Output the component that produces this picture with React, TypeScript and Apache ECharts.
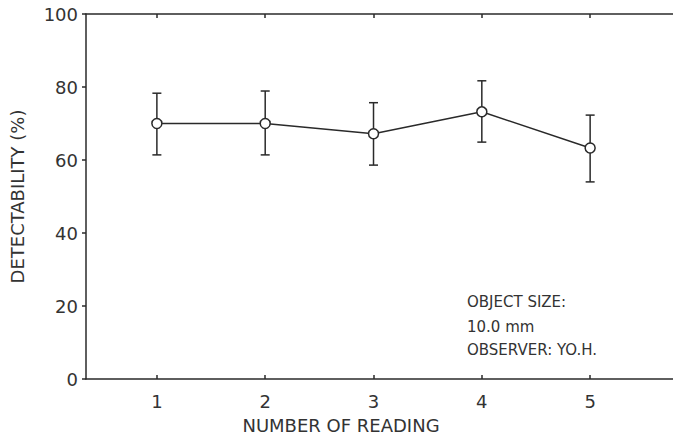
import React, { useEffect, useRef } from "react";
import * as echarts from "echarts";

const readings = [1, 2, 3, 4, 5];
const detectability = [70.0, 70.0, 67.2, 73.2, 63.3];
const errLow = [61.4, 61.4, 58.6, 64.9, 54.0];
const errHigh = [78.3, 78.9, 75.7, 81.7, 72.3];
const yTicks = [0, 20, 40, 60, 80, 100];
const notes = ["OBJECT SIZE:", "10.0 mm", "OBSERVER: YO.H."];

const INK = "#2a2a2a";
const FONT = "DejaVu Sans";

export default function App() {
  const ref = useRef<HTMLDivElement>(null);
  useEffect(() => {
    if (!ref.current) return;
    const chart = echarts.init(ref.current, undefined, { renderer: "svg" });
    const xMin = 0.3456;
    const xMax = 5.765;
    const option: any = {
      animation: false,
      backgroundColor: "#ffffff",
      grid: { left: 85, right: 0, top: 14, bottom: 65 },
      xAxis: [
        {
          type: "value",
          min: xMin,
          max: xMax,
          position: "bottom",
          axisLine: { show: true, lineStyle: { color: INK, width: 1.5 } },
          axisTick: { show: true, inside: true, length: 4, customValues: readings, lineStyle: { color: INK, width: 1.5 } },
          axisLabel: { show: true, customValues: readings, margin: 13, color: "#333", fontSize: 18, fontFamily: FONT },
          splitLine: { show: false },
        },
        {
          type: "value",
          min: xMin,
          max: xMax,
          position: "top",
          axisLine: { show: true, lineStyle: { color: INK, width: 1.5 } },
          axisTick: { show: true, inside: true, length: 4, customValues: readings, lineStyle: { color: INK, width: 1.5 } },
          axisLabel: { show: false },
          splitLine: { show: false },
        },
      ],
      yAxis: {
        type: "value",
        min: 0,
        max: 100,
        interval: 20,
        name: "DETECTABILITY (%)",
        nameLocation: "middle",
        nameGap: 60,
        nameTextStyle: { color: "#333", fontSize: 18, fontFamily: FONT },
        axisLine: { show: true, lineStyle: { color: INK, width: 1.5 } },
        axisTick: { show: true, inside: false, length: 4, lineStyle: { color: INK, width: 1.5 } },
        axisLabel: {
          margin: 8,
          color: "#333",
          fontSize: 18,
          fontFamily: FONT,
          formatter: (v: number) => (yTicks.includes(v) ? String(v) : ""),
        },
        splitLine: { show: false },
      },
      graphic: [
        {
          type: "text",
          x: 341,
          y: 416,
          style: { text: "NUMBER OF READING", fill: "#333", font: `18px "${FONT}"`, align: "center", verticalAlign: "top" },
        },
        ...notes.map((t, i) => ({
          type: "text",
          left: 467,
          top: [294, 319, 342][i],
          style: { text: t, fill: "#333", font: `15px "${FONT}"` },
        })),
      ],
      series: [
        {
          type: "custom",
          xAxisIndex: 0,
          data: readings.map((r, i) => [r, errLow[i], errHigh[i]]),
          renderItem: (params: any, api: any) => {
            const x = api.value(0);
            const lo = api.coord([x, api.value(1)]);
            const hi = api.coord([x, api.value(2)]);
            const cap = 4.5;
            const style = { stroke: INK, lineWidth: 1.5 };
            return {
              type: "group",
              children: [
                { type: "line", shape: { x1: lo[0], y1: lo[1], x2: hi[0], y2: hi[1] }, style },
                { type: "line", shape: { x1: lo[0] - cap, y1: lo[1], x2: lo[0] + cap, y2: lo[1] }, style },
                { type: "line", shape: { x1: hi[0] - cap, y1: hi[1], x2: hi[0] + cap, y2: hi[1] }, style },
              ],
            };
          },
          z: 2,
        },
        {
          type: "line",
          xAxisIndex: 0,
          data: readings.map((r, i) => [r, detectability[i]]),
          symbol: "circle",
          symbolSize: 10,
          itemStyle: { color: "#ffffff", borderColor: INK, borderWidth: 1.5 },
          lineStyle: { color: INK, width: 1.5 },
          z: 3,
        },
      ],
    };
    chart.setOption(option);
    return () => chart.dispose();
  }, []);
  return (
    <div
      ref={ref}
      style={{ position: "absolute", left: 0, top: 0, width: 673, height: 444 }}
    />
  );
}
